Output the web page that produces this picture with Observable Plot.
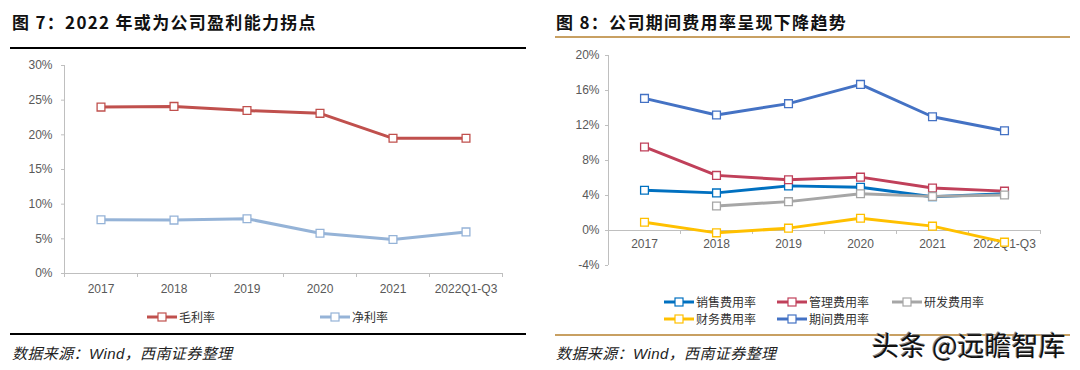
<!DOCTYPE html>
<html><head><meta charset="utf-8">
<script src="https://cdn.jsdelivr.net/npm/d3@7"></script>
<script src="https://cdn.jsdelivr.net/npm/@observablehq/plot@0.6"></script>
<style>
html,body{margin:0;padding:0;background:#fff}
body{width:1080px;height:370px;position:relative;overflow:hidden;font-family:"Liberation Sans",Arial,sans-serif}
.abs{position:absolute}
.title{font-family:"Noto Sans CJK SC","Liberation Sans",sans-serif;font-weight:700;font-size:17px;line-height:22px;letter-spacing:1.3px;color:#111;white-space:nowrap}
.src{font-family:"Liberation Sans","Noto Sans CJK SC",sans-serif;font-style:italic;font-size:15px;line-height:20px;color:#222;white-space:nowrap;letter-spacing:0.4px}
.leg{font-family:"Noto Sans CJK SC",sans-serif;font-size:12px;line-height:14px;color:#333;white-space:nowrap;display:flex;align-items:center}
.leg svg{display:block;margin-right:2px}
.wm{font-family:"Noto Sans CJK SC",sans-serif;font-size:27px;line-height:32px;color:#111;white-space:nowrap;text-shadow:1px 1px 0 #fff,-1px -1px 0 #888}
</style></head><body>
<div id="root"></div>
<script>
// ---- data ----
const years = ["2017", "2018", "2019", "2020", "2021", "2022Q1-Q3"];
const grossMargin = [24.0, 24.1, 23.5, 23.1, 19.5, 19.5];   // 毛利率 %
const netMargin   = [7.75, 7.7, 7.9, 5.8, 4.9, 6.0];         // 净利率 %
const sellingRate = [4.6, 4.3, 5.1, 4.95, 3.85, 4.2];        // 销售费用率 %
const adminRate   = [9.55, 6.3, 5.8, 6.1, 4.85, 4.5];        // 管理费用率 %
const rdRate      = [null, 2.8, 3.3, 4.2, 3.9, 4.05];        // 研发费用率 %
const financeRate = [0.95, -0.27, 0.27, 1.4, 0.5, -1.33];    // 财务费用率 %
const periodRate  = [15.1, 13.2, 14.5, 16.7, 13.0, 11.4];    // 期间费用率 %
const leftTicks  = [0, 5, 10, 15, 20, 25, 30];
const rightTicks = [-4, 0, 4, 8, 12, 16, 20];
const leftTitle  = "图 7：2022 年或为公司盈利能力拐点";
const rightTitle = "图 8：公司期间费用率呈现下降趋势";
const sourceText = "数据来源：Wind，西南证券整理";
const watermark  = "头条 @远瞻智库";

const leftSeries = [
  {name: "毛利率", values: grossMargin, color: "#C0504D"},
  {name: "净利率", values: netMargin, color: "#95B3D7"}
];
const rightSeries = [
  {name: "销售费用率", values: sellingRate, color: "#0070C0"},
  {name: "管理费用率", values: adminRate, color: "#C0405A"},
  {name: "研发费用率", values: rdRate, color: "#A6A6A6"},
  {name: "财务费用率", values: financeRate, color: "#FFC000"},
  {name: "期间费用率", values: periodRate, color: "#4472C4"}
];

// ---- helpers ----
const idx = years.map((_, i) => i);
const bounds = [...idx.map(i => i - 0.5), years.length - 0.5];
const rows = s => s.values.map((v, i) => ({i, v, name: s.name})).filter(d => d.v != null);
const axisColor = "#BFBFBF";
const labelColor = "#595959";
const seriesMarks = series => series.flatMap(s => [
  Plot.line(rows(s), {x: "i", y: "v", stroke: s.color, strokeWidth: 3, strokeLinejoin: "round"}),
  Plot.dot(rows(s), {x: "i", y: "v", symbol: "square", r: 4.4, fill: "white", stroke: s.color, strokeWidth: 1.3})
]);
const root = document.getElementById("root");
function place(el, left, top) { el.classList.add("abs"); el.style.left = left + "px"; el.style.top = top + "px"; root.appendChild(el); return el; }
function div(cls, text) { const d = document.createElement("div"); d.className = cls; d.textContent = text; return d; }
function rule(left, top, width, color) { const d = document.createElement("div"); d.style.width = width + "px"; d.style.height = "2px"; d.style.background = color; return place(d, left, top); }
function legendItem(s) {
  const d = document.createElement("div"); d.className = "leg";
  const ns = "http://www.w3.org/2000/svg";
  const svg = document.createElementNS(ns, "svg"); svg.setAttribute("width", 30); svg.setAttribute("height", 10);
  const l = document.createElementNS(ns, "line"); l.setAttribute("x1", 0); l.setAttribute("x2", 30); l.setAttribute("y1", 5); l.setAttribute("y2", 5);
  l.setAttribute("stroke", s.color); l.setAttribute("stroke-width", 3); svg.appendChild(l);
  const r = document.createElementNS(ns, "rect"); r.setAttribute("x", 11); r.setAttribute("y", 1); r.setAttribute("width", 8); r.setAttribute("height", 8);
  r.setAttribute("fill", "white"); r.setAttribute("stroke", s.color); r.setAttribute("stroke-width", 1.2); svg.appendChild(r);
  d.appendChild(svg); d.appendChild(document.createTextNode(s.name));
  return d;
}

// ---- left chart ----
const left = Plot.plot({
  width: 540, height: 298,
  marginLeft: 64, marginRight: 38, marginTop: 65, marginBottom: 25,
  x: {type: "linear", domain: [bounds[0], bounds[bounds.length - 1]], axis: null},
  y: {domain: [leftTicks[0], leftTicks[leftTicks.length - 1]], axis: null},
  style: {fontFamily: "'Liberation Sans', Arial, sans-serif", fontSize: "12px", background: "transparent", overflow: "visible"},
  marks: [
    Plot.ruleX([bounds[0]], {stroke: axisColor}),
    Plot.ruleY([leftTicks[0]], {stroke: axisColor}),
    Plot.axisY({ticks: leftTicks, tickSize: 3, tickPadding: 9, tickFormat: d => d + "%", stroke: axisColor, fill: labelColor, strokeOpacity: 1, label: null}),
    Plot.axisX({ticks: bounds, tickSize: 4, tickFormat: () => "", stroke: axisColor, strokeOpacity: 1, label: null}),
    Plot.axisX({ticks: idx, tickSize: 0, tickPadding: 11, tickFormat: i => years[i], fill: labelColor, label: null}),
    ...seriesMarks(leftSeries)
  ]
});
place(left, 0, 0);

// ---- right chart ----
const right = Plot.plot({
  width: 540, height: 275,
  marginLeft: 68, marginRight: 40, marginTop: 55, marginBottom: 10,
  x: {type: "linear", domain: [bounds[0], bounds[bounds.length - 1]], axis: null},
  y: {domain: [rightTicks[0], rightTicks[rightTicks.length - 1]], axis: null},
  style: {fontFamily: "'Liberation Sans', Arial, sans-serif", fontSize: "12px", background: "transparent", overflow: "visible"},
  marks: [
    Plot.ruleX([bounds[0]], {stroke: axisColor}),
    Plot.ruleY([0], {stroke: axisColor}),
    Plot.ruleX(bounds, {x: d => d, y1: 0, y2: -0.45, stroke: axisColor}),
    Plot.axisY({ticks: rightTicks, tickSize: 3, tickPadding: 6, tickFormat: d => d + "%", stroke: axisColor, fill: labelColor, strokeOpacity: 1, label: null}),
    Plot.text(idx, {x: i => i, y: () => 0, text: i => years[i], dy: 14, fill: labelColor, fontSize: 12}),
    ...seriesMarks(rightSeries)
  ]
});
place(right, 540, 0);

// ---- titles, rules, legends, source ----
place(div("title", leftTitle), 12, 11);
place(div("title", rightTitle), 556, 11);
rule(10, 47, 516, "#000");
rule(555, 36, 515, "#C8A062");

place(legendItem(leftSeries[0]), 147, 310);
place(legendItem(leftSeries[1]), 320, 310);
const rx = [664, 777, 892];
rightSeries.forEach((s, k) => place(legendItem(s), rx[k % 3], k < 3 ? 295 : 312));

rule(10, 333, 516, "#000");
rule(555, 334, 515, "#C8A062");
place(div("src", sourceText), 12, 344);
place(div("src", sourceText), 556, 344);
place(div("wm", watermark), 872, 329);
</script>
</body></html>
